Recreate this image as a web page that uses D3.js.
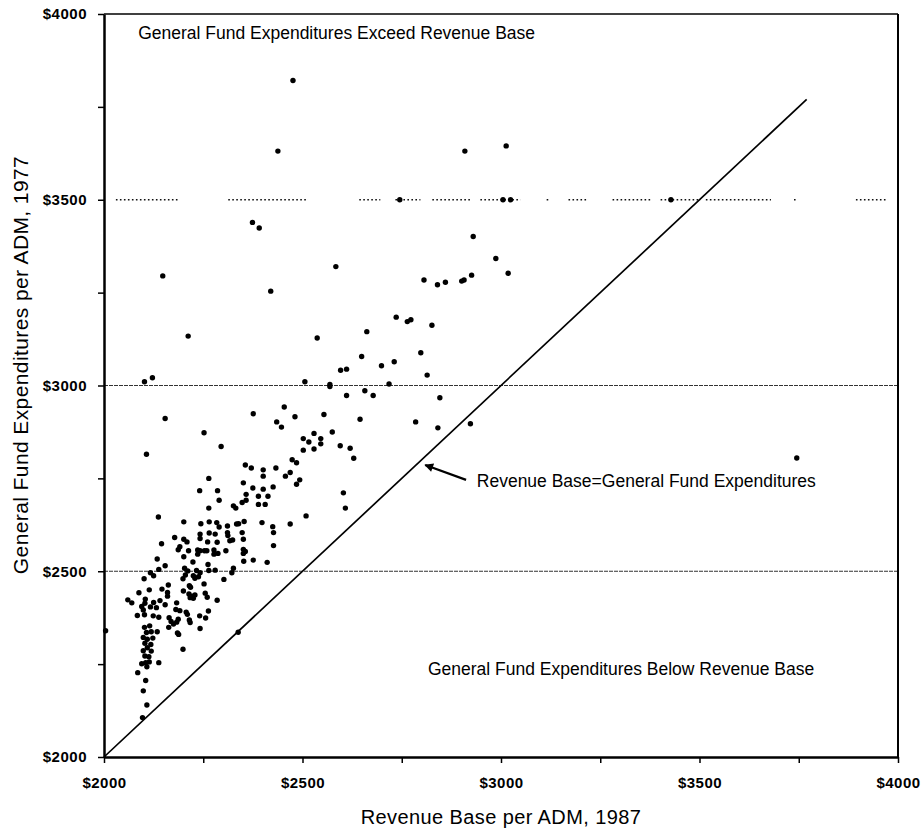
<!DOCTYPE html>
<html>
<head>
<meta charset="utf-8">
<script src="https://cdn.jsdelivr.net/npm/d3@7"></script>
<style>
body { margin: 0; background: #fff; }
svg text { font-family: "Liberation Sans", Arial, Helvetica, sans-serif; fill: #000; }
.axis text { font-size: 15px; font-weight: bold; letter-spacing: .5px; }
.note { font-size: 17.5px; }
.title { font-size: 20px; letter-spacing: .4px; }
</style>
</head>
<body>
<svg id="chart" width="921" height="832"></svg>
<script>
// revenue base per ADM, 1987 (x) and general fund expenditures per ADM, 1977 (y)
const revenue1987 = [
  2476,2438,2909,3013,2374,2391,2930,2987,2745,3005,3024,3428,
  2148,2584,2420,2806,2840,2860,2901,2907,2926,3018,2212,2537,2736,2764,2773,2826,2662,2649,
  2798,2699,2731,2596,2611,2814,2102,2122,2506,2569,2569,2718,2154,2611,2657,2678,2846,2454,
  2376,2481,2554,2435,2447,2645,2785,2841,2923,2252,2107,2295,2502,2516,2529,2546,2546,2575,
  2502,2529,2595,2620,2629,2474,2485,2356,2371,2401,2401,2433,2469,2457,2264,2493,2485,2351,
  2375,2401,2426,2241,2286,2603,2290,2358,2358,2348,2389,2413,2389,2406,2326,2332,2264,2608,
  2137,2201,2244,2265,2284,2290,2311,2311,2334,2339,2353,2398,2469,2509,2425,2427,2427,2348,
  2351,2312,2317,2324,2242,2242,2265,2261,2280,2285,2277,2277,2178,2201,2209,2145,2187,2191,
  2213,2236,2236,2242,2253,2259,2307,2351,2351,2356,2376,2411,2352,2287,2201,2224,2134,2154,
  2138,2262,2203,2211,2233,2242,2264,2280,2326,2322,2117,2125,2101,2199,2205,2225,2229,2238,
  2302,2215,2218,2252,2114,2146,2162,2200,2088,2214,2221,2229,2217,2225,2255,2260,2160,2160,
  2060,2070,2104,2103,2125,2141,2154,2183,2285,2095,2099,2117,2132,2181,2191,2207,2210,2263,
  2084,2102,2124,2138,2164,2169,2175,2187,2183,2215,2217,2241,2256,2242,2163,2102,2115,2107,
  2119,2134,2185,2188,2004,2099,2109,2123,2103,2118,2109,2119,2099,2103,2113,2199,2105,2095,
  2114,2108,2138,2085,2105,2099,2108,2097,2338,3745
];
const expend1977 = [
  3821,3631,3631,3645,3439,3424,3401,3342,3500,3500,3500,3500,
  3295,3320,3254,3284,3271,3278,3281,3284,3297,3302,3133,3128,3184,3172,3177,3162,3145,3078,
  3088,3053,3064,3041,3044,3028,3010,3021,3010,3003,2997,3004,2911,2973,2986,2973,2967,2942,
  2924,2916,2922,2902,2888,2909,2902,2886,2897,2873,2815,2836,2857,2848,2871,2857,2843,2875,
  2826,2829,2838,2831,2804,2800,2792,2786,2778,2773,2756,2778,2766,2756,2750,2746,2734,2738,
  2724,2721,2727,2717,2717,2711,2691,2707,2691,2685,2702,2702,2680,2680,2676,2670,2670,2670,
  2646,2633,2628,2633,2631,2619,2622,2604,2627,2628,2634,2631,2627,2649,2620,2604,2569,2604,
  2586,2596,2582,2584,2600,2588,2603,2579,2600,2578,2557,2546,2591,2586,2579,2574,2558,2566,
  2555,2557,2546,2555,2555,2555,2555,2559,2548,2553,2530,2524,2527,2548,2539,2525,2533,2515,
  2505,2518,2508,2501,2502,2496,2502,2503,2508,2496,2496,2488,2480,2480,2490,2488,2481,2485,
  2478,2461,2457,2466,2450,2452,2463,2447,2442,2439,2433,2436,2429,2427,2441,2430,2443,2433,
  2423,2415,2425,2414,2416,2421,2410,2415,2422,2405,2396,2404,2402,2397,2394,2390,2384,2393,
  2381,2383,2380,2376,2375,2365,2358,2371,2363,2369,2362,2380,2374,2346,2349,2349,2353,2335,
  2337,2337,2334,2330,2340,2322,2317,2320,2306,2303,2294,2285,2286,2272,2270,2290,2254,2251,
  2256,2243,2254,2227,2206,2178,2140,2106,2336,2805
];

const axisTicks = [2000, 2250, 2500, 2750, 3000, 3250, 3500, 3750, 4000];
const labelTicks = [2000, 2500, 3000, 3500, 4000];
const gridLevels = [2500, 3000];
const dottedLevel = 3500;
const dottedRuns = [[2030,2187],[2313,2509],[2643,2696],[2734,2797],[2827,2923],[2948,3049],
  [3115,3125],[3170,3216],[3281,3377],[3402,3503],[3516,3680],[3738,3748],[3894,3970]];
const parityEnd = 3770;

const svg = d3.select("#chart");
const x = d3.scaleLinear().domain([2000, 4000]).range([104, 898]);
const y = d3.scaleLinear().domain([2000, 4000]).range([757, 14]);

// grid lines
svg.append("g").selectAll("line").data(gridLevels).join("line")
  .attr("x1", x(2000)).attr("x2", x(4000))
  .attr("y1", d => y(d)).attr("y2", d => y(d))
  .attr("stroke", "#333").attr("stroke-width", 1.2).attr("stroke-dasharray", "4,1");

svg.append("g").selectAll("line").data(dottedRuns).join("line")
  .attr("x1", d => x(d[0])).attr("x2", d => x(d[1]))
  .attr("y1", y(dottedLevel)).attr("y2", y(dottedLevel))
  .attr("stroke", "#111").attr("stroke-width", 1.5).attr("stroke-dasharray", "1.6,2.4");

// frame
svg.append("line").attr("x1", x(2000)).attr("x2", x(4000)).attr("y1", y(4000)).attr("y2", y(4000))
  .attr("stroke", "#000").attr("stroke-width", 1.5);
svg.append("line").attr("x1", x(4000)).attr("x2", x(4000)).attr("y1", y(4000)).attr("y2", y(2000))
  .attr("stroke", "#000").attr("stroke-width", 2);

const fmt = d => labelTicks.includes(d) ? "$" + d : "";

const xAxis = svg.append("g").attr("class", "axis")
  .attr("transform", `translate(0,${y(2000)})`)
  .call(d3.axisBottom(x).tickValues(axisTicks).tickFormat(fmt).tickSize(6).tickSizeOuter(0).tickPadding(14));
const yAxis = svg.append("g").attr("class", "axis")
  .attr("transform", `translate(${x(2000)},0)`)
  .call(d3.axisLeft(y).tickValues(axisTicks).tickFormat(fmt).tickSize(6).tickSizeOuter(0).tickPadding(11));

[xAxis, yAxis].forEach(g => {
  g.select(".domain").attr("stroke", "#000").attr("stroke-width", 2.5);
  g.selectAll(".tick line").attr("stroke", "#000").attr("stroke-width", 1.5);
  g.selectAll("text").attr("fill", "#000").style("font-family", null);
});

// parity line
svg.append("line")
  .attr("x1", x(2000)).attr("y1", y(2000))
  .attr("x2", x(parityEnd)).attr("y2", y(parityEnd))
  .attr("stroke", "#000").attr("stroke-width", 1.7);

// districts
svg.append("g").selectAll("circle").data(revenue1987).join("circle")
  .attr("cx", d => x(d))
  .attr("cy", (d, i) => y(expend1977[i]))
  .attr("r", 2.7)
  .attr("fill", "#000");

// annotations
svg.append("text").attr("class", "note").attr("x", x(2086)).attr("y", y(3934))
  .text("General Fund Expenditures Exceed Revenue Base");
svg.append("text").attr("class", "note").attr("x", x(2816)).attr("y", y(2221))
  .text("General Fund Expenditures Below Revenue Base");
svg.append("text").attr("class", "note").attr("x", x(2939)).attr("y", y(2727))
  .text("Revenue Base=General Fund Expenditures");

svg.append("defs").append("marker")
  .attr("id", "head").attr("viewBox", "0 0 10 10")
  .attr("refX", 9).attr("refY", 5)
  .attr("markerWidth", 5).attr("markerHeight", 4).attr("orient", "auto")
  .append("path").attr("d", "M0,0L10,5L0,10Z").attr("fill", "#000");

svg.append("line")
  .attr("x1", x(2912)).attr("y1", y(2746))
  .attr("x2", x(2809)).attr("y2", y(2786))
  .attr("stroke", "#000").attr("stroke-width", 2.2)
  .attr("marker-end", "url(#head)");

// axis titles
svg.append("text").attr("class", "title")
  .attr("text-anchor", "middle").attr("x", 501).attr("y", 824)
  .text("Revenue Base per ADM, 1987");
svg.append("text").attr("class", "title")
  .attr("text-anchor", "middle")
  .attr("transform", "translate(28,365) rotate(-90)")
  .style("font-size", "21px")
  .text("General Fund Expenditures per ADM, 1977");
</script>
</body>
</html>
